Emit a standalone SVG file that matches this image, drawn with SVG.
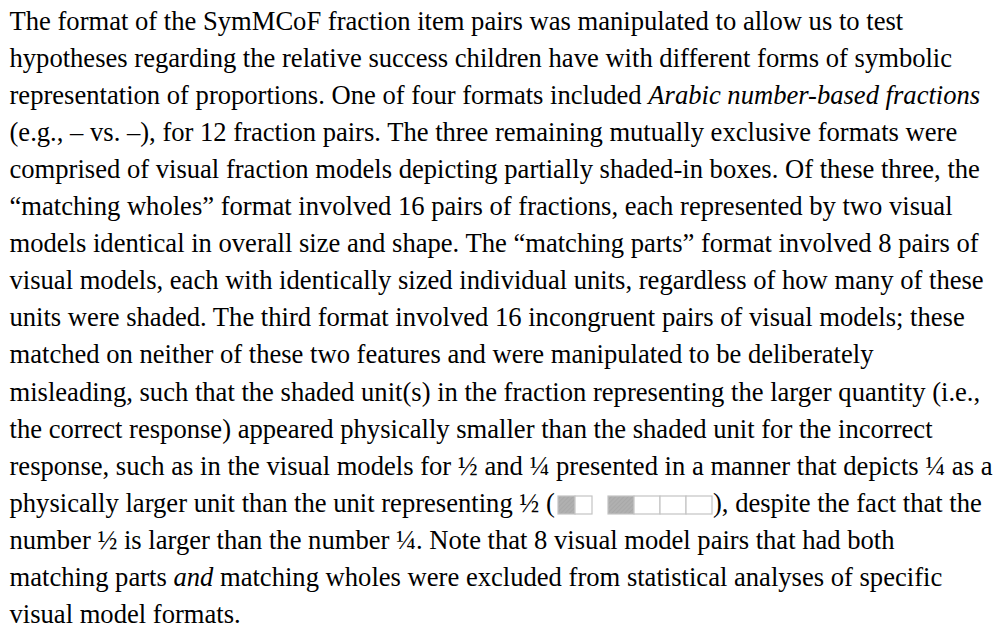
<svg xmlns="http://www.w3.org/2000/svg" width="997" height="629" viewBox="0 0 997 629">
<style>
text{font-family:"Liberation Serif","Times New Roman",serif;font-size:26.6px;fill:#000;}
.it{font-style:italic;}
.u{fill:#fff;stroke:#c4c4c4;stroke-width:1.2;}
.s{fill:url(#hatch);stroke:#c4c4c4;stroke-width:1.2;}
</style>
<defs>
<pattern id="hatch" width="3" height="3" patternUnits="userSpaceOnUse" patternTransform="rotate(45)">
<rect width="3" height="3" fill="#b0b0b0"/>
<line x1="0" y1="0" x2="0" y2="3" stroke="#a0a0a0" stroke-width="1"/>
</pattern>
</defs>
<rect width="997" height="629" fill="#fff"/>
<g id="paragraph">
<text x="9.5" y="29.5">The format of the SymMCoF fraction item pairs was manipulated to allow us to test</text>
<text x="9.5" y="66.6">hypotheses regarding the relative success children have with different forms of symbolic</text>
<text x="9.5" y="103.7">representation of proportions. One of four formats included <tspan class="it">Arabic number-based fractions</tspan></text>
<text x="9.5" y="140.8">(e.g., – vs. –), for 12 fraction pairs. The three remaining mutually exclusive formats were</text>
<text x="9.5" y="177.9">comprised of visual fraction models depicting partially shaded-in boxes. Of these three, the</text>
<text x="9.5" y="215">“matching wholes” format involved 16 pairs of fractions, each represented by two visual</text>
<text x="9.5" y="252.1">models identical in overall size and shape. The “matching parts” format involved 8 pairs of</text>
<text x="9.5" y="289.2">visual models, each with identically sized individual units, regardless of how many of these</text>
<text x="9.5" y="326.3">units were shaded. The third format involved 16 incongruent pairs of visual models; these</text>
<text x="9.5" y="363.4">matched on neither of these two features and were manipulated to be deliberately</text>
<text x="9.5" y="400.5">misleading, such that the shaded unit(s) in the fraction representing the larger quantity (i.e.,</text>
<text x="9.5" y="437.6">the correct response) appeared physically smaller than the shaded unit for the incorrect</text>
<text x="9.5" y="474.7">response, such as in the visual models for ½ and ¼ presented in a manner that depicts ¼ as a</text>
<text x="9.5" y="511.8">physically larger unit than the unit representing ½ (</text>
<text x="713" y="511.8">), despite the fact that the</text>
<text x="9.5" y="548.9">number ½ is larger than the number ¼. Note that 8 visual model pairs that had both</text>
<text x="9.5" y="586">matching parts <tspan class="it">and</tspan> matching wholes were excluded from statistical analyses of specific</text>
<text x="9.5" y="623.1">visual model formats.</text>
</g>
<g id="half-model">
<rect class="s" x="558" y="496" width="17" height="18"/>
<rect class="u" x="575" y="496" width="17" height="18"/>
</g>
<g id="quarter-model">
<rect class="s" x="608" y="496" width="26" height="18"/>
<rect class="u" x="634" y="496" width="26" height="18"/>
<rect class="u" x="660" y="496" width="26" height="18"/>
<rect class="u" x="686" y="496" width="26" height="18"/>
</g>
</svg>
